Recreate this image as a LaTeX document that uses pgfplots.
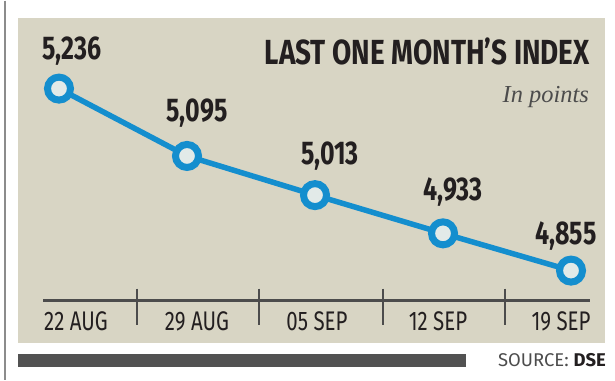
\documentclass[border=0pt]{standalone}
\usepackage{pgfplots}
\pgfplotsset{compat=1.18}
\usepackage{fontspec}
\setmainfont{Fira Sans}
\newfontfamily\cond[FakeStretch=0.76]{Fira Sans}
\newfontfamily\condt[FakeStretch=0.8]{Fira Sans}
\newfontfamily\serifit{Liberation Serif}
\definecolor{panel}{RGB}{216,213,196}
\definecolor{lineblue}{RGB}{20,142,206}
\definecolor{ink}{RGB}{35,31,32}
\definecolor{markfill}{RGB}{226,234,232}
\begin{document}
\begin{tikzpicture}
\begin{scope}[x=1bp,y=-1bp]
\fill[white] (0,0) rectangle (615,379);
\fill[panel] (18,17) rectangle (605,342);
\draw[black!45, line width=1.2bp] (5,0) -- (5,379);
\fill[black!68] (18,353) rectangle (466,366);
\node[anchor=base east, inner sep=0, font=\fontsize{18.5}{18.5}\selectfont, text=black!70] at (606,366) {SOURCE: \textcolor{ink}{\bfseries DSE}};
\draw[black!70, line width=2.5bp] (43,300) -- (590,300);
\foreach \x in {137,259,383,505} \draw[black!70, line width=1.6bp] (\x,288) -- (\x,324);
\foreach \x/\t in {76/22 AUG,197/29 AUG,317/05 SEP,438/12 SEP,561/19 SEP}
  \node[anchor=base, inner sep=0, text=ink, font=\cond\fontsize{27}{27}\selectfont] at (\x,330) {\t};
\node[anchor=base east, inner sep=0, text=ink, font=\condt\bfseries\fontsize{35}{35}\selectfont] at (590,64) {LAST ONE MONTH’S INDEX};
\node[anchor=base east, inner sep=0, text=black!70, font=\serifit\itshape\fontsize{24.5}{24.5}\selectfont] at (589,102) {In points};
\end{scope}
\begin{axis}[at={(0,0)}, anchor=north west, scale only axis, width=615bp, height=379bp,
  xmin=-0.4609, xmax=4.3438, ymin=4626.8, ymax=5420.2, hide axis, clip=false]
\addplot[lineblue, line width=5.5bp, mark=*, mark size=11.5bp,
  every mark/.append style={fill=markfill, draw=lineblue, line width=7bp}]
  coordinates {(0,5236) (1,5095) (2,5013) (3,4933) (4,4855)};
\end{axis}
\begin{scope}[x=1bp,y=-1bp]
\foreach \x/\y/\t in {72/50/{5,236},197/112/{5,095},330/155/{5,013},453/191/{4,933},566/235/{4,855}}
  \node[inner sep=0, text=ink, font=\cond\bfseries\fontsize{33}{33}\selectfont] at (\x,\y) {\t};
\end{scope}
\end{tikzpicture}
\end{document}
